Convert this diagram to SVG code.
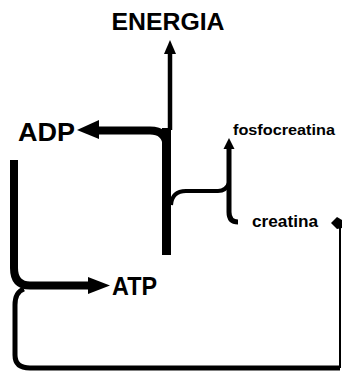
<svg xmlns="http://www.w3.org/2000/svg" width="342" height="373" viewBox="0 0 342 373">
<style>
.t{font-family:"Liberation Sans",Arial,sans-serif;font-weight:bold;fill:#000}
.c{fill:none;stroke:#000;stroke-linecap:butt;stroke-linejoin:round}
.h{fill:#000;stroke:none}
</style>
<rect width="342" height="373" fill="#fff"/>
<g id="energia"><text class="t" x="168" y="30" font-size="24" text-anchor="middle" textLength="113" lengthAdjust="spacingAndGlyphs">ENERGIA</text></g>
<g id="adp"><text class="t" x="18" y="141" font-size="26" textLength="57" lengthAdjust="spacingAndGlyphs">ADP</text></g>
<g id="atp"><text class="t" x="112" y="295" font-size="25" textLength="45" lengthAdjust="spacingAndGlyphs">ATP</text></g>
<g id="fosfocreatina"><text class="t" x="233" y="135" font-size="15" textLength="102" lengthAdjust="spacingAndGlyphs">fosfocreatina</text></g>
<g id="creatina"><text class="t" x="252" y="227" font-size="16" textLength="66" lengthAdjust="spacingAndGlyphs">creatina</text></g>
<g id="connectors">
<path class="c" d="M170 50 L170 130" stroke-width="4.5"/>
<polygon class="h" points="170,40 176,54 164,54"/>
<path class="c" d="M166.5 128 L166.5 255" stroke-width="9"/>
<path class="c" d="M96 130.5 L150 130.5 Q166.5 130.5 166.5 146" stroke-width="8"/>
<polygon class="h" points="77,130 99,120 99,139"/>
<path class="c" d="M229 146 L229 212 Q229 222 238 222" stroke-width="5"/>
<polygon class="h" points="229,138 234.5,149 223.5,149"/>
<path class="c" d="M171 205 Q172 191 186 191 L218 191 Q226 191 229 183" stroke-width="4"/>
<path class="c" d="M14 160 L14 268 Q14 285.5 30 285.5 L90 285.5" stroke-width="8"/>
<polygon class="h" points="110,285.5 88,277 88,294"/>
<path class="c" d="M24 289 Q15 292 15 305 L15 355 Q15 368 30 368 L340 368" stroke-width="5"/>
<path class="c" d="M340 368 L340 224" stroke-width="2"/>
<polygon class="h" points="331,223 337,217 342,220 342,228 337,229"/>
</g>
</svg>
